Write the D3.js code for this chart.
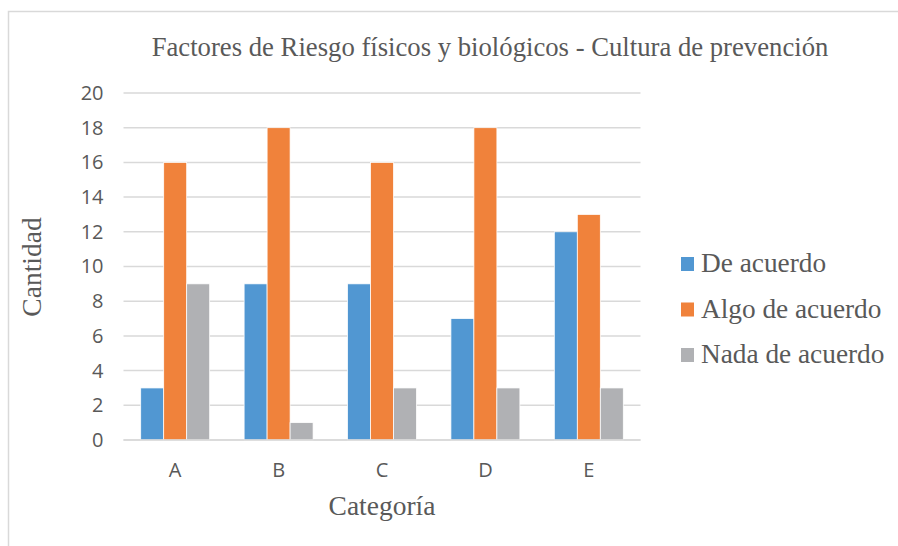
<!DOCTYPE html>
<html>
<head>
<meta charset="utf-8">
<script src="https://cdn.jsdelivr.net/npm/d3@7"></script>
<style>
  body { margin: 0; background: #fff; }
  svg { display: block; }
</style>
</head>
<body>
<svg id="chart" width="898" height="546"></svg>
<script>
// data
var categories = ["A", "B", "C", "D", "E"];
var seriesNames = ["De acuerdo", "Algo de acuerdo", "Nada de acuerdo"];
var deAcuerdo = [3, 9, 9, 7, 12];
var algoDeAcuerdo = [16, 18, 16, 18, 13];
var nadaDeAcuerdo = [9, 1, 3, 3, 3];
var yTicks = [0, 2, 4, 6, 8, 10, 12, 14, 16, 18, 20];

var seriesValues = [deAcuerdo, algoDeAcuerdo, nadaDeAcuerdo];
var colors = ["#5197d2", "#f0823b", "#b0b1b4"];

var serif = "'Liberation Serif', 'Times New Roman', serif";
var sans = "'Open Sans', 'Liberation Sans', sans-serif";
var textColor = "#595959";

var svg = d3.select("svg#chart");

// chart area border
svg.append("path")
    .attr("d", "M8.5,546 V11.5 H898")
    .attr("fill", "none")
    .attr("stroke", "#d9d9d9")
    .attr("stroke-width", 1.5);

var plot = {left: 123.5, right: 640.5, top: 93, bottom: 440};

var x = d3.scaleBand()
    .domain(categories)
    .range([plot.left, plot.right]);

var groupWidth = x.bandwidth() * 0.667;
var x1 = d3.scaleBand()
    .domain(seriesNames)
    .range([0, groupWidth]);

var y = d3.scaleLinear()
    .domain([0, 20])
    .range([plot.bottom, plot.top]);

// gridlines
svg.append("g")
    .selectAll("line")
    .data(yTicks)
    .enter().append("line")
    .attr("x1", plot.left)
    .attr("x2", plot.right)
    .attr("y1", function(d) { return y(d); })
    .attr("y2", function(d) { return y(d); })
    .attr("stroke", "#d9d9d9")
    .attr("stroke-width", 1.5);

// y tick labels
var yAxis = d3.axisLeft(y).tickValues(yTicks).tickSize(0).tickPadding(20);
var gy = svg.append("g")
    .attr("transform", "translate(" + plot.left + ",0)")
    .call(yAxis);
gy.select(".domain").remove();
gy.attr("font-size", null).attr("font-family", null);
gy.selectAll("text")
    .attr("fill", textColor)
    .style("font-family", sans)
    .style("font-size", "20px");

// bars
var groups = svg.append("g")
    .selectAll("g")
    .data(categories)
    .enter().append("g")
    .attr("transform", function(d) {
      return "translate(" + (x(d) + (x.bandwidth() - groupWidth) / 2) + ",0)";
    });

groups.selectAll("rect")
    .data(function(d, i) {
      return seriesNames.map(function(s, j) {
        return {series: s, value: seriesValues[j][i], color: colors[j]};
      });
    })
    .enter().append("rect")
    .attr("x", function(d) { return x1(d.series); })
    .attr("width", x1.bandwidth())
    .attr("y", function(d) { return y(d.value); })
    .attr("height", function(d) { return y(0) - y(d.value); })
    .attr("fill", function(d) { return d.color; })
    .attr("stroke", "#fff")
    .attr("stroke-width", 0.75);

// x axis baseline
svg.append("line")
    .attr("x1", plot.left)
    .attr("x2", plot.right)
    .attr("y1", y(0))
    .attr("y2", y(0))
    .attr("stroke", "#d9d9d9")
    .attr("stroke-width", 1.5);

// x tick labels
var xAxis = d3.axisBottom(x).tickSize(0).tickPadding(23);
var gx = svg.append("g")
    .attr("transform", "translate(0," + plot.bottom + ")")
    .call(xAxis);
gx.select(".domain").remove();
gx.attr("font-size", null).attr("font-family", null);
gx.selectAll("text")
    .attr("fill", textColor)
    .style("font-family", sans)
    .style("font-size", "20px");

// title
svg.append("text")
    .attr("x", 490)
    .attr("y", 56)
    .attr("text-anchor", "middle")
    .attr("fill", textColor)
    .style("font-family", serif)
    .style("font-size", "26.7px")
    .text("Factores de Riesgo físicos y biológicos - Cultura de prevención");

// axis titles
svg.append("text")
    .attr("transform", "translate(41,267) rotate(-90)")
    .attr("text-anchor", "middle")
    .attr("fill", textColor)
    .style("font-family", serif)
    .style("font-size", "27.5px")
    .text("Cantidad");

svg.append("text")
    .attr("x", 382)
    .attr("y", 515)
    .attr("text-anchor", "middle")
    .attr("fill", textColor)
    .style("font-family", serif)
    .style("font-size", "27.5px")
    .text("Categoría");

// legend
var legend = svg.append("g")
    .selectAll("g")
    .data(seriesNames)
    .enter().append("g")
    .attr("transform", function(d, i) {
      return "translate(681," + (257 + i * 45.5) + ")";
    });

legend.append("rect")
    .attr("width", 13)
    .attr("height", 14)
    .attr("fill", function(d, i) { return colors[i]; });

legend.append("text")
    .attr("x", 20)
    .attr("y", 15)
    .attr("fill", textColor)
    .style("font-family", serif)
    .style("font-size", "27.3px")
    .text(function(d) { return d; });
</script>
</body>
</html>
